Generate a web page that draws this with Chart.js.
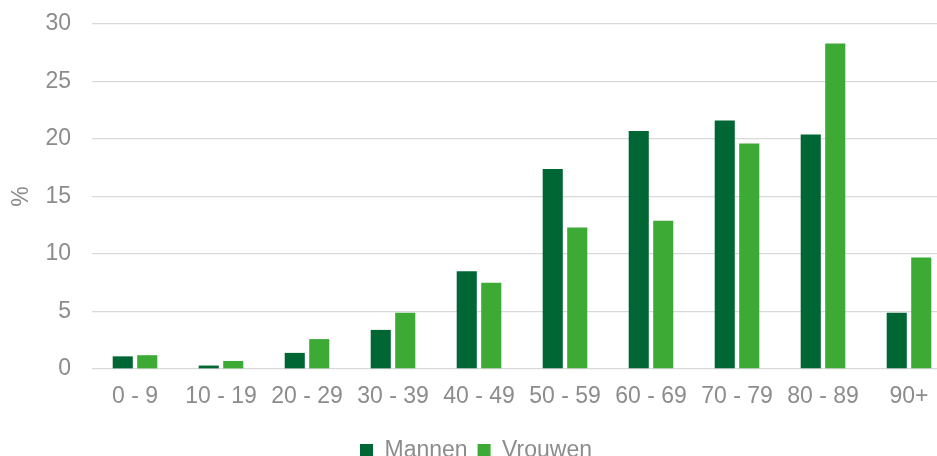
<!DOCTYPE html>
<html>
<head>
<meta charset="utf-8">
<script src="https://cdn.jsdelivr.net/npm/chart.js@4"></script>
<style>
  html, body { margin: 0; padding: 0; overflow: hidden; background: #fff; }
  #wrap { position: relative; width: 960px; height: 472px; }
</style>
</head>
<body>
<div id="wrap"><canvas id="myChart"></canvas></div>
<script>
const ctx = document.getElementById('myChart').getContext('2d');

// age groups
const labels = ['0 - 9', '10 - 19', '20 - 29', '30 - 39', '40 - 49', '50 - 59', '60 - 69', '70 - 79', '80 - 89', '90+'];
// percentages
const mannen = [1.1, 0.3, 1.4, 3.4, 8.5, 17.4, 20.7, 21.6, 20.4, 4.9];
const vrouwen = [1.2, 0.7, 2.6, 4.9, 7.5, 12.3, 12.9, 19.6, 28.3, 9.7];
const yTicks = [0, 5, 10, 15, 20, 25, 30];

const grey = '#8c8c8c';
Chart.defaults.font.family = '"Liberation Sans", Arial, sans-serif';
Chart.defaults.font.size = 23;
Chart.defaults.color = grey;

const data = {
    labels,
    datasets: [
        {
            label: 'Mannen',
            data: mannen,
            backgroundColor: '#006633',
            categoryPercentage: 0.57,
            barPercentage: 0.82
        },
        {
            label: 'Vrouwen',
            data: vrouwen,
            backgroundColor: '#3daa35',
            categoryPercentage: 0.57,
            barPercentage: 0.82
        },
    ],
};

const config = {
    type: 'bar',
    data: data,
    options: {
        responsive: true,
        maintainAspectRatio: false,
        animation: false,
        layout: {
            padding: { top: 24, right: 8, left: 0, bottom: 0 }
        },
        plugins: {
            tooltip: { enabled: false },
            legend: {
                position: 'bottom',
                labels: {
                    boxWidth: 13,
                    boxHeight: 13,
                    padding: 10,
                    color: grey
                }
            }
        },
        scales: {
            x: {
                grid: { display: false, drawTicks: false },
                border: { display: false },
                ticks: { padding: 14, maxRotation: 0, autoSkip: false },
                afterFit: (scale) => { scale.height = 60; }
            },
            y: {
                min: 0,
                max: 30,
                afterBuildTicks: (scale) => {
                    scale.ticks = yTicks.map(v => ({ value: v }));
                },
                grid: { color: '#d9d9d9', lineWidth: 1.3, drawTicks: false },
                border: { display: false },
                ticks: { padding: 21 },
                title: {
                    display: true,
                    text: '%',
                    padding: { top: 8, bottom: 0 }
                },
                afterFit: (scale) => {
                    scale.width = 92;
                    scale.paddingTop = 0;
                    scale.paddingBottom = 0;
                }
            }
        }
    },
};

const myChart = new Chart(ctx, config);
</script>
</body>
</html>
